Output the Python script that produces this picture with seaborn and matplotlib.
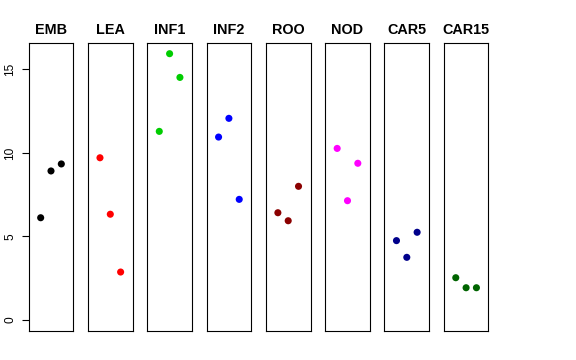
import pandas as pd
import numpy as np
import matplotlib.pyplot as plt
import seaborn as sns

# tissues and the three replicate values in each
tissues = ['EMB', 'LEA', 'INF1', 'INF2', 'ROO', 'NOD', 'CAR5', 'CAR15']
colors = ['black', 'red', '#00CD00', 'blue', '#8B0000', 'magenta', '#00008B', '#006400']
rep = [1, 2, 3]
emb = [6.12, 8.92, 9.34]
lea = [9.71, 6.33, 2.87]
inf1 = [11.29, 15.94, 14.52]
inf2 = [10.95, 12.07, 7.22]
roo = [6.42, 5.94, 8.00]
nod = [10.27, 7.14, 9.38]
car5 = [4.75, 3.75, 5.25]
car15 = [2.53, 1.93, 1.93]
values = [emb, lea, inf1, inf2, roo, nod, car5, car15]
yticks = [0, 5, 10, 15]

sns.set_style('white')
plt.rcParams['font.family'] = ['Liberation Sans', 'DejaVu Sans']
plt.rcParams['text.color'] = 'black'
plt.rcParams['ytick.color'] = 'black'
plt.rcParams['axes.labelcolor'] = 'black'

W, H = 576, 360
fig = plt.figure(figsize=(W / 100, H / 100), dpi=100)

left0 = 28.7
step = 59.3
pw = 44.6
top_px, bot_px = 43, 331

for i, (name, vals, col) in enumerate(zip(tissues, values, colors)):
    ax = fig.add_axes([(left0 + i * step) / W, (H - bot_px) / H, pw / W, (bot_px - top_px) / H])
    df = pd.DataFrame({'rep': rep, 'val': vals})
    sns.scatterplot(data=df, x='rep', y='val', color=col, s=26, edgecolor='none', ax=ax)
    ax.set_xlim(-0.16, 4.16)
    ax.set_ylim(-0.66, 16.58)
    ax.set_xlabel('')
    ax.set_ylabel('')
    ax.set_xticks([])
    ax.set_title(name, fontsize=10.4, fontweight='bold', pad=6.5, color='black')
    for sp in ax.spines.values():
        sp.set_color('black')
        sp.set_linewidth(0.8)
    if i == 0:
        ax.set_yticks(yticks)
        ax.set_yticklabels([str(t) for t in yticks], rotation=90, va='center', fontsize=8.6, color='black')
        ax.tick_params(axis='y', left=True, length=5, width=0.8, pad=4, color='black')
    else:
        ax.set_yticks([])

fig.savefig('out.png', dpi=100)
